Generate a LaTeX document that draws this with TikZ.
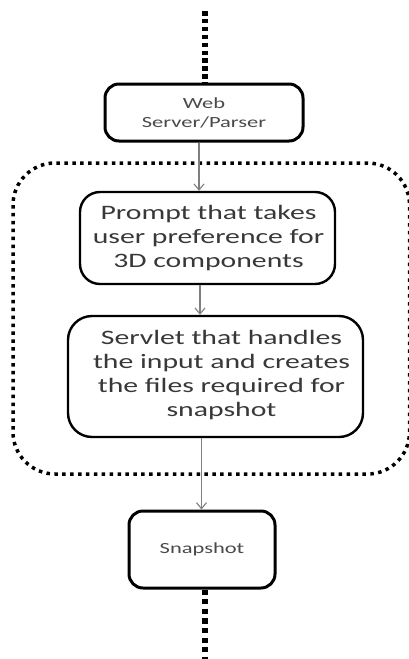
\documentclass[tikz,border=0pt]{standalone}
\usepackage{fontspec}
\setmainfont{Carlito}[FakeStretch=1.45]
\usetikzlibrary{arrows.meta}
\definecolor{txtdark}{HTML}{383838}
\definecolor{txtlight}{HTML}{4A4A4A}
\definecolor{arrowgray}{HTML}{7F7F7F}
\begin{document}
\begin{tikzpicture}[x=1pt,y=-1pt,
  bigbox/.style={draw=black, line width=2.4pt, rounded corners=20pt, fill=white},
  smallbox/.style={draw=black, line width=3pt, rounded corners=14pt, fill=white},
  bigtxt/.style={text=txtdark, align=center, font=\fontsize{20.5}{24}\selectfont},
  smalltxt/.style={text=txtlight, align=center, font=\fontsize{15.5}{19}\selectfont},
  flow/.style={draw=arrowgray, line width=1.1pt, -{Straight Barb[length=6pt,width=10pt,line width=1.1pt]}},
  thickdots/.style={line width=6pt, dash pattern=on 4.5pt off 3.4pt},
  groupline/.style={line width=3.5pt, dash pattern=on 3.5pt off 4.4pt, rounded corners=42pt}
]
\useasboundingbox (0,0) rectangle (408,659);

% grouping frame around the prompt and servlet stages
\draw[groupline] (13,163) rectangle (409.5,474);

% stages
\node[smallbox, minimum width=198pt, minimum height=57pt] (web) at (204,112.5) {};
\node[smalltxt] (webtxt) at (web.center) {Web\\Server/Parser};

\node[bigbox, minimum width=255pt, minimum height=92pt] (prompt) at (207.5,238) {};
\node[bigtxt] (prompttxt) at ([xshift=1pt]prompt.center) {Prompt that takes\\user preference for\\3D components};

\node[bigbox, rounded corners=24pt, minimum width=295pt, minimum height=121pt] (servlet) at (215.5,376.5) {};
\node[bigtxt] (servlettxt) at ([xshift=6pt,yshift=1.5pt]servlet.center) {Servlet that handles\\the input and creates\\the files required for\\snapshot};

\node[smallbox, minimum width=146pt, minimum height=77pt] (snap) at (202,549.5) {};
\node[smalltxt] (snaptxt) at (snap.center) {Snapshot};

% loose ends of the chain
\coordinate (topend) at (205,11);
\coordinate (botend) at (205,662);
\draw[thickdots] (topend) -- (topend |- web.north);
\draw[thickdots, dash pattern=on 5.3pt off 4.3pt] (botend |- snap.south) -- (botend);

% flow arrows
\draw[flow] ([xshift=-5pt]web.south) -- ([xshift=-5pt]web.south |- prompt.north);
\draw[flow] ([xshift=-7.5pt]prompt.south) -- ([xshift=-7.5pt]prompt.south |- servlet.north);
\draw[flow] ([xshift=-14pt]servlet.south) -- ([xshift=-14pt]servlet.south |- snap.north);
\end{tikzpicture}
\end{document}
